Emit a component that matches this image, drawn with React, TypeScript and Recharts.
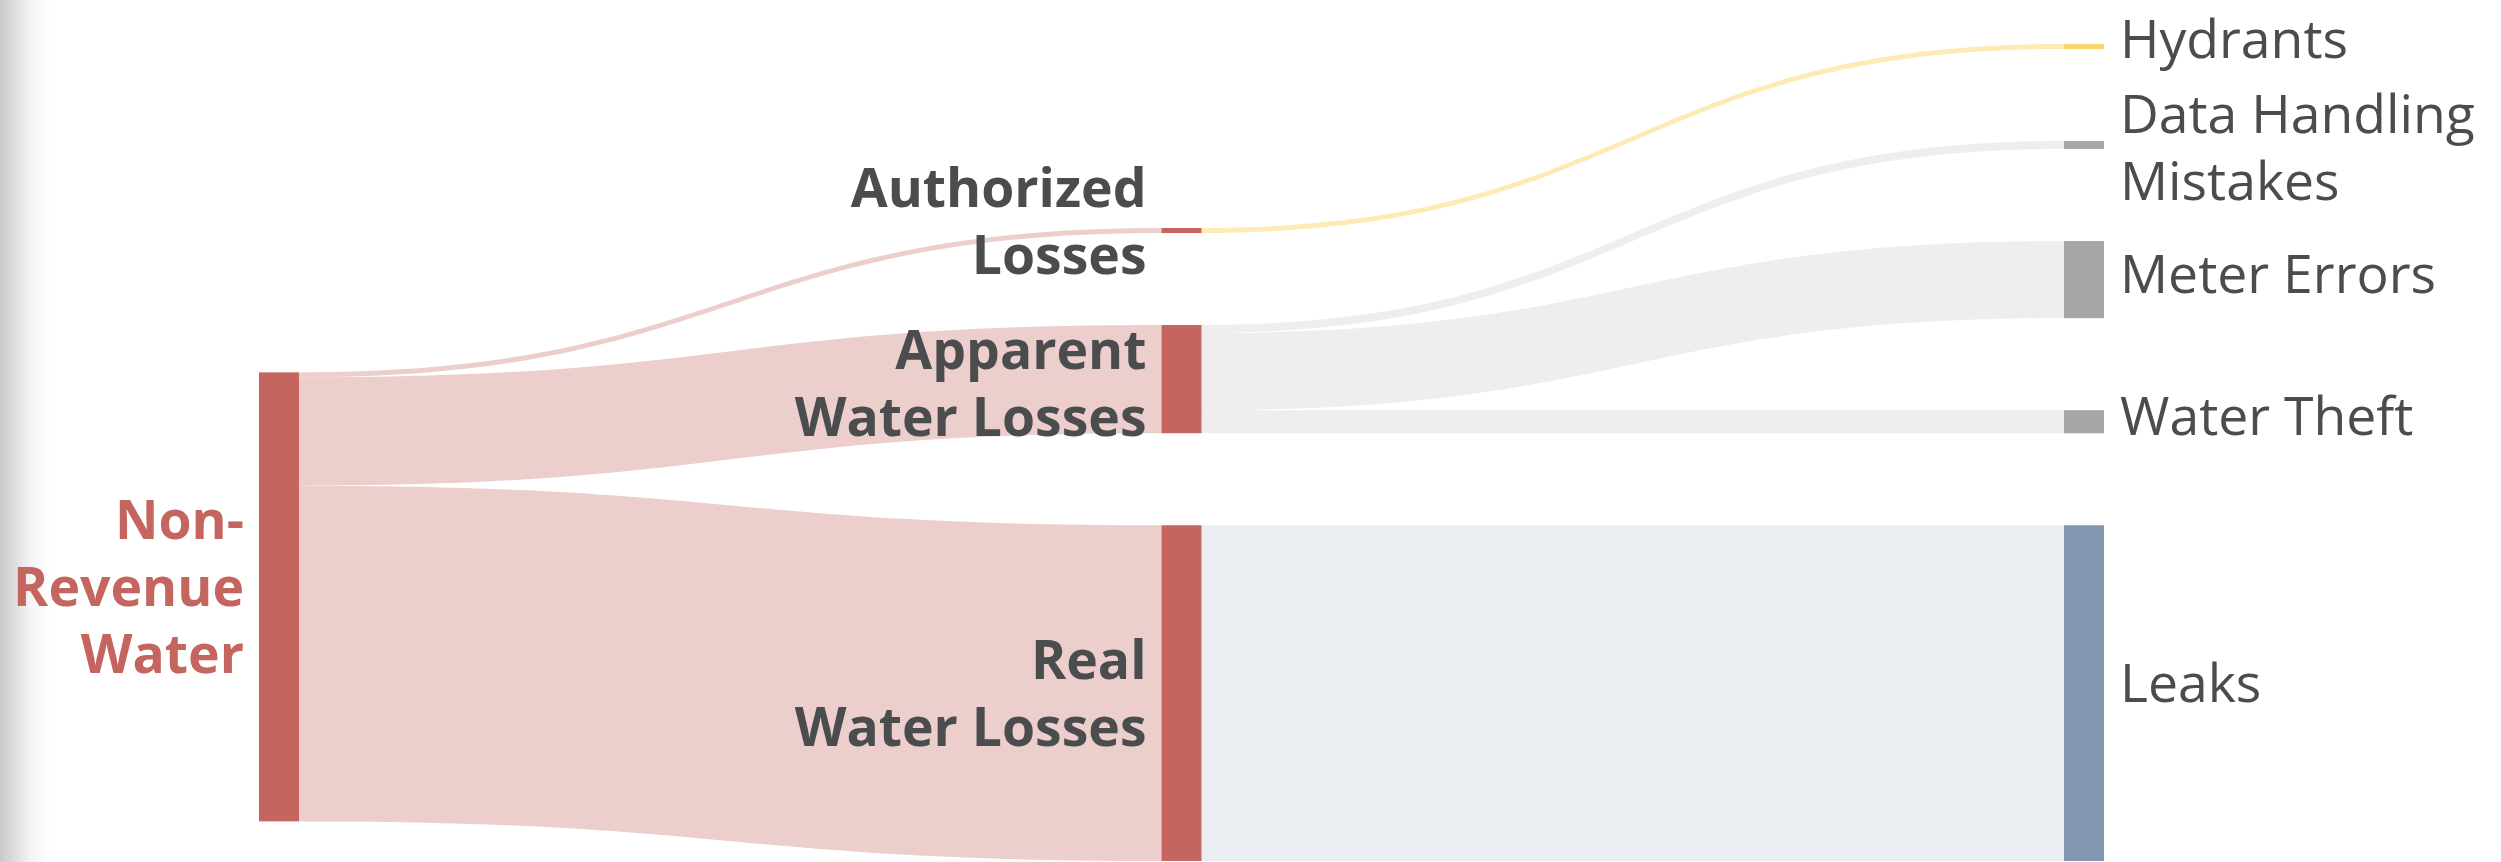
import React from "react";
import { Sankey } from "recharts";

// nodes, in column order
const nodeNames = [
  "Non-Revenue Water",
  "Authorized Losses",
  "Apparent Water Losses",
  "Real Water Losses",
  "Hydrants",
  "Data Handling Mistakes",
  "Meter Errors",
  "Water Theft",
  "Leaks",
];

// how each label is broken into lines
const labelLines = [
  ["Non-", "Revenue", "Water"],
  ["Authorized", "Losses"],
  ["Apparent", "Water Losses"],
  ["Real", "Water Losses"],
  ["Hydrants"],
  ["Data Handling", "Mistakes"],
  ["Meter Errors"],
  ["Water Theft"],
  ["Leaks"],
];

// flows
const linkSources = [0, 0, 0, 1, 2, 2, 2, 3];
const linkTargets = [1, 2, 3, 4, 5, 6, 7, 8];
const linkValues = [5, 108, 335, 5, 8, 77, 23, 335];

const RED = "#c4665f";
const TEXT = "#4b4c4e";

const nodeColors = [RED, RED, RED, RED, "#fad46c", "#a6a6a6", "#a6a6a6", "#a6a6a6", "#8297b0"];
const linkColors = ["", "#eccfcd", "#eccfcd", "#eccfcd", "#fdebb6", "#eeeeee", "#eeeeee", "#eeeeee", "#eaedf2"];
// small vertical tweaks of the label blocks
const labelNudge = [-4, -3, 10, 6, -2, 8, 0, 0, -4];

const data = {
  nodes: nodeNames.map((name) => ({ name })),
  links: linkValues.map((value, i) => ({ source: linkSources[i], target: linkTargets[i], value })),
};

const FONT = 53.5;
const LINE = 67;

const renderNode = (props: any) => {
  const { x, y, width, height, index } = props;
  const lines = labelLines[index];
  const onRight = index >= 4;
  const cy = y + height / 2;
  const tx = onRight ? x + width + 16 : x - 15;
  const first = cy - ((lines.length - 1) * LINE) / 2 + 13 + labelNudge[index];
  return (
    <g>
      <rect x={x} y={y} width={width} height={height} fill={nodeColors[index]} />
      <text
        textAnchor={onRight ? "start" : "end"}
        fontFamily="'Open Sans', sans-serif"
        fontSize={FONT}
        fontWeight={onRight ? 400 : 700}
        fill={index === 0 ? RED : TEXT}
      >
        {lines.map((l, i) => (
          <tspan key={i} x={tx} y={first + i * LINE}>
            {l}
          </tspan>
        ))}
      </text>
    </g>
  );
};

const renderLink = (props: any) => {
  const { sourceX, targetX, sourceY, targetY, sourceControlX, targetControlX, linkWidth, index } = props;
  const h = linkWidth / 2;
  const d =
    `M${sourceX},${sourceY - h} C${sourceControlX},${sourceY - h} ${targetControlX},${targetY - h} ${targetX},${targetY - h} ` +
    `L${targetX},${targetY + h} C${targetControlX},${targetY + h} ${sourceControlX},${sourceY + h} ${sourceX},${sourceY + h} Z`;
  return <path d={d} fill={linkColors[linkTargets[index]]} stroke="none" />;
};

export default function App() {
  return (
    <div style={{ position: "absolute", left: 0, top: 0, width: 2501, height: 862, background: "#fff", overflow: "hidden" }}>
      <div
        style={{
          position: "absolute",
          left: 0,
          top: 0,
          width: 50,
          height: 862,
          background: "linear-gradient(to right, #c9c9c9, #f4f4f4 60%, #ffffff)",
        }}
      />
      <div style={{ position: "absolute", left: 0, top: 0 }}>
        <Sankey
          width={2501}
          height={862}
          data={data}
          node={renderNode}
          link={renderLink}
          nodeWidth={40}
          nodePadding={92}
          iterations={32}
          sort={false}
          margin={{ top: 44, right: 397, bottom: 1, left: 259 }}
        />
      </div>
    </div>
  );
}
